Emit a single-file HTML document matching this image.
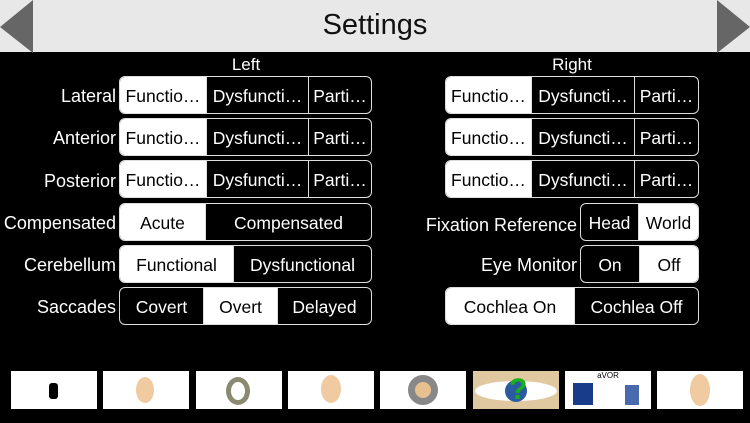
<!DOCTYPE html>
<html><head><meta charset="utf-8"><style>
*{margin:0;padding:0;box-sizing:border-box}
body{width:750px;height:423px;background:#000;position:relative;overflow:hidden;font-family:"Liberation Sans",sans-serif;color:#fff}
.hdr{position:absolute;left:0;top:0;width:750px;height:52px;background:#e8e8e8}
.title{position:absolute;left:0;width:750px;top:9px;text-align:center;font-size:29px;color:#111}
.lab{position:absolute;font-size:18px;text-align:right;white-space:nowrap}
.seg{position:absolute;height:38px;border:1.5px solid #ddd;border-radius:6px;overflow:hidden;display:flex}
.seg div{height:100%;display:flex;align-items:center;justify-content:center;font-size:17.5px;padding-top:3px;border-left:1.5px solid #ddd;white-space:nowrap}
.seg div:first-child{border-left:none}
.w{background:#fff;color:#000}
.th{position:absolute;top:371px;height:38px;background:#fff;overflow:hidden}
</style></head><body>
<div class="hdr"></div>
<svg style="position:absolute;left:0;top:0" width="750" height="53"><polygon points="33,0 0,27 33,53" fill="#666"/><polygon points="717,0 750,27 717,53" fill="#666"/></svg>
<div class="title">Settings</div>
<div class="lab" style="left:200px;width:92px;text-align:center;top:55px;font-size:17px">Left</div>
<div class="lab" style="left:526px;width:92px;text-align:center;top:55px;font-size:17px">Right</div>

<div class="lab" style="right:634px;top:86px">Lateral</div>
<div class="lab" style="right:634px;top:128px">Anterior</div>
<div class="lab" style="right:634px;top:171px">Posterior</div>
<div class="lab" style="right:634px;top:213px">Compensated</div>
<div class="lab" style="right:634px;top:255px">Cerebellum</div>
<div class="lab" style="right:634px;top:297px">Saccades</div>
<div class="lab" style="right:173px;top:215px">Fixation Reference</div>
<div class="lab" style="right:173px;top:255px">Eye Monitor</div>

<div class="seg" style="left:119px;top:76px;width:253px"><div class="w" style="width:86px">Functio…</div><div style="width:102px">Dysfuncti…</div><div style="flex:1">Parti…</div></div>
<div class="seg" style="left:119px;top:118px;width:253px"><div class="w" style="width:86px">Functio…</div><div style="width:102px">Dysfuncti…</div><div style="flex:1">Parti…</div></div>
<div class="seg" style="left:119px;top:160px;width:253px"><div class="w" style="width:86px">Functio…</div><div style="width:102px">Dysfuncti…</div><div style="flex:1">Parti…</div></div>
<div class="seg" style="left:119px;top:203px;width:253px"><div class="w" style="width:85px">Acute</div><div style="flex:1">Compensated</div></div>
<div class="seg" style="left:119px;top:245px;width:253px"><div class="w" style="width:113px">Functional</div><div style="flex:1">Dysfunctional</div></div>
<div class="seg" style="left:119px;top:287px;width:253px"><div style="width:83px">Covert</div><div class="w" style="width:74px">Overt</div><div style="flex:1">Delayed</div></div>

<div class="seg" style="left:445px;top:76px;width:254px"><div class="w" style="width:85px">Functio…</div><div style="width:103px">Dysfuncti…</div><div style="flex:1">Parti…</div></div>
<div class="seg" style="left:445px;top:118px;width:254px"><div class="w" style="width:85px">Functio…</div><div style="width:103px">Dysfuncti…</div><div style="flex:1">Parti…</div></div>
<div class="seg" style="left:445px;top:160px;width:254px"><div class="w" style="width:85px">Functio…</div><div style="width:103px">Dysfuncti…</div><div style="flex:1">Parti…</div></div>
<div class="seg" style="left:580px;top:203px;width:119px"><div style="width:57px">Head</div><div class="w" style="flex:1">World</div></div>
<div class="seg" style="left:580px;top:245px;width:119px"><div style="width:58px">On</div><div class="w" style="flex:1">Off</div></div>
<div class="seg" style="left:445px;top:287px;width:254px"><div class="w" style="width:128px">Cochlea On</div><div style="flex:1">Cochlea Off</div></div>

<div class="th" style="left:11px;width:86px"><div style="position:absolute;left:38px;top:12px;width:9px;height:16px;background:#000;border-radius:3px"></div></div>
<div class="th" style="left:103px;width:86px"><div style="position:absolute;left:33px;top:6px;width:18px;height:26px;background:#f0caa0;border-radius:50%"></div></div>
<div class="th" style="left:196px;width:86px"><div style="position:absolute;left:30px;top:6px;width:24px;height:28px;border:5px solid #8a8a70;border-radius:50%"></div></div>
<div class="th" style="left:288px;width:86px"><div style="position:absolute;left:33px;top:4px;width:20px;height:28px;background:#f0caa0;border-radius:50%"></div></div>
<div class="th" style="left:380px;width:86px"><div style="position:absolute;left:28px;top:4px;width:30px;height:30px;border:7px solid #888;border-radius:50%;background:#e8c090"></div></div>
<div class="th" style="left:473px;width:86px;background:#e0c8a0"><div style="position:absolute;left:2px;top:10px;width:82px;height:20px;background:#fff;border-radius:50%"></div><div style="position:absolute;left:32px;top:9px;width:22px;height:22px;background:#2a5aa0;border-radius:50%"></div><div style="position:absolute;left:36px;top:2px;font-size:30px;font-weight:bold;color:#1ab01a;line-height:34px">?</div></div>
<div class="th" style="left:565px;width:86px"><div style="position:absolute;left:0;width:86px;top:0;text-align:center;font-size:8px;color:#000">aVOR</div><div style="position:absolute;left:8px;top:12px;width:20px;height:22px;background:#1a3a8a"></div><div style="position:absolute;left:60px;top:14px;width:14px;height:20px;background:#4a6ab0"></div></div>
<div class="th" style="left:657px;width:86px"><div style="position:absolute;left:33px;top:3px;width:20px;height:32px;background:#f0caa0;border-radius:50%"></div></div>
</body></html>
